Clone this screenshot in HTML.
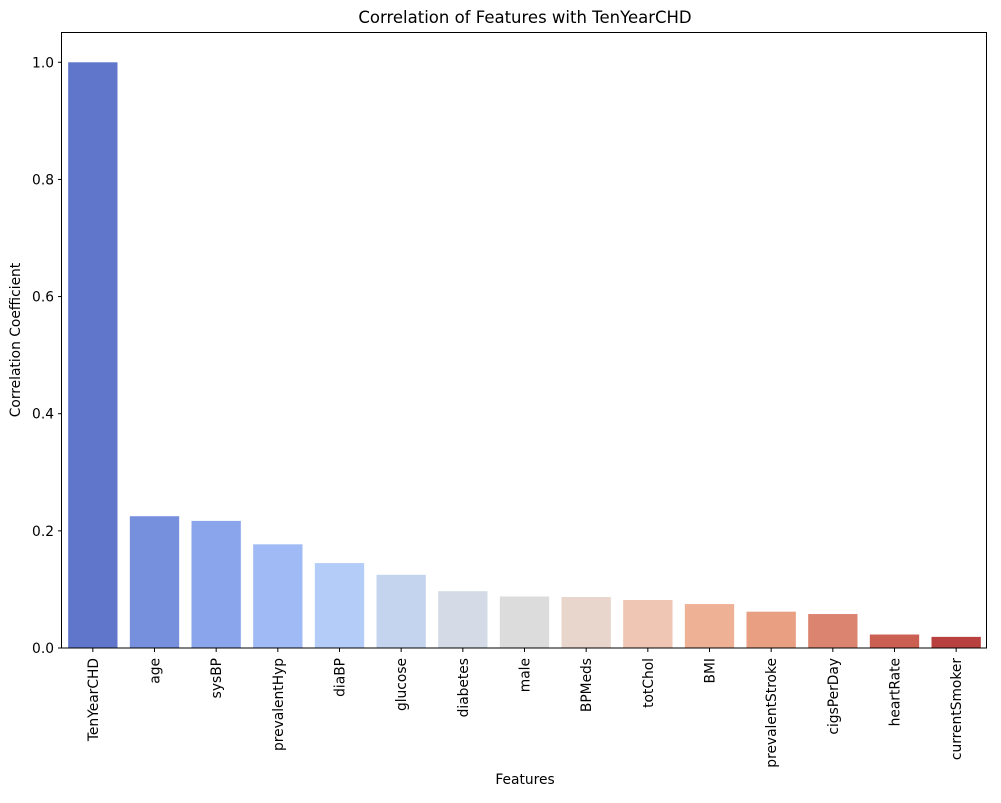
<!DOCTYPE html>
<html><head><meta charset="utf-8"><style>
body{margin:0;background:#fff;}
svg text{font-family:"DejaVu Sans","Liberation Sans",sans-serif;fill:#000;}
</style></head><body>
<svg id="chart" width="1001" height="798">
<rect x="0" y="0" width="1001" height="798" fill="#fff"/>
<text x="525" y="23" font-size="16.5" text-anchor="middle">Correlation of Features with TenYearCHD</text>
<text x="525" y="784" font-size="13.8" text-anchor="middle">Features</text>
<text transform="translate(20,340) rotate(-90)" font-size="13.8" text-anchor="middle">Correlation Coefficient</text>
<g id="bars"></g><g id="yticks"></g><g id="xticks"></g>
<rect x="61.5" y="32.5" width="925" height="615.5" fill="none" stroke="#000" stroke-width="1"/>
</svg>
<script>
const categories=["TenYearCHD","age","sysBP","prevalentHyp","diaBP","glucose","diabetes","male","BPMeds","totChol","BMI","prevalentStroke","cigsPerDay","heartRate","currentSmoker"];
const values=[1.0,0.225,0.217,0.177,0.145,0.125,0.097,0.088,0.087,0.082,0.075,0.062,0.058,0.023,0.019];
const colors=["#6076cb","#7690dd","#8aa5eb","#9fbaf5","#b3ccf8","#c4d4ef","#d4dbe6","#dddcdc","#e8d5cb","#efc6b3","#efb196","#e89f82","#db8570","#cb5f51","#b8403e"];
const yTickValues=[0.0,0.2,0.4,0.6,0.8,1.0];
const yTickLabels=["0.0","0.2","0.4","0.6","0.8","1.0"];
const NS="http://www.w3.org/2000/svg";
const L=62,R=987,T=33,B=648,ymax=1.05;
const y=v=>B-(v/ymax)*(B-T);
const step=(R-L)/categories.length;
const xc=i=>L+step*(i+0.5);
const bars=document.getElementById('bars'),yt=document.getElementById('yticks'),xt=document.getElementById('xticks');
categories.forEach((c,i)=>{
 const r=document.createElementNS(NS,'rect');
 r.setAttribute('x',xc(i)-step*0.4);r.setAttribute('width',step*0.8);
 r.setAttribute('y',y(values[i]));r.setAttribute('height',B-y(values[i]));
 r.setAttribute('fill',colors[i]);
 
 
 bars.appendChild(r);
 const l=document.createElementNS(NS,'line');
 l.setAttribute('x1',xc(i));l.setAttribute('x2',xc(i));l.setAttribute('y1',B);l.setAttribute('y2',B+4);l.setAttribute('stroke','#000');
 
 
 xt.appendChild(l);
 const t=document.createElementNS(NS,'text');
 t.setAttribute('font-size','13.8');t.setAttribute('text-anchor','end');
 t.setAttribute('transform','translate('+(xc(i)+5)+','+(B+10)+') rotate(-90)');
 t.textContent=c;
 
 
 xt.appendChild(t);
});
yTickValues.forEach((v,i)=>{
 const l=document.createElementNS(NS,'line');
 l.setAttribute('x1',L-4);l.setAttribute('x2',L);l.setAttribute('y1',y(v));l.setAttribute('y2',y(v));l.setAttribute('stroke','#000');
 
 
 yt.appendChild(l);
 const t=document.createElementNS(NS,'text');
 t.setAttribute('x',L-8);t.setAttribute('y',y(v)+5);t.setAttribute('font-size','13.8');t.setAttribute('text-anchor','end');
 t.textContent=yTickLabels[i];
 
 
 yt.appendChild(t);
});
</script>
</body></html>
